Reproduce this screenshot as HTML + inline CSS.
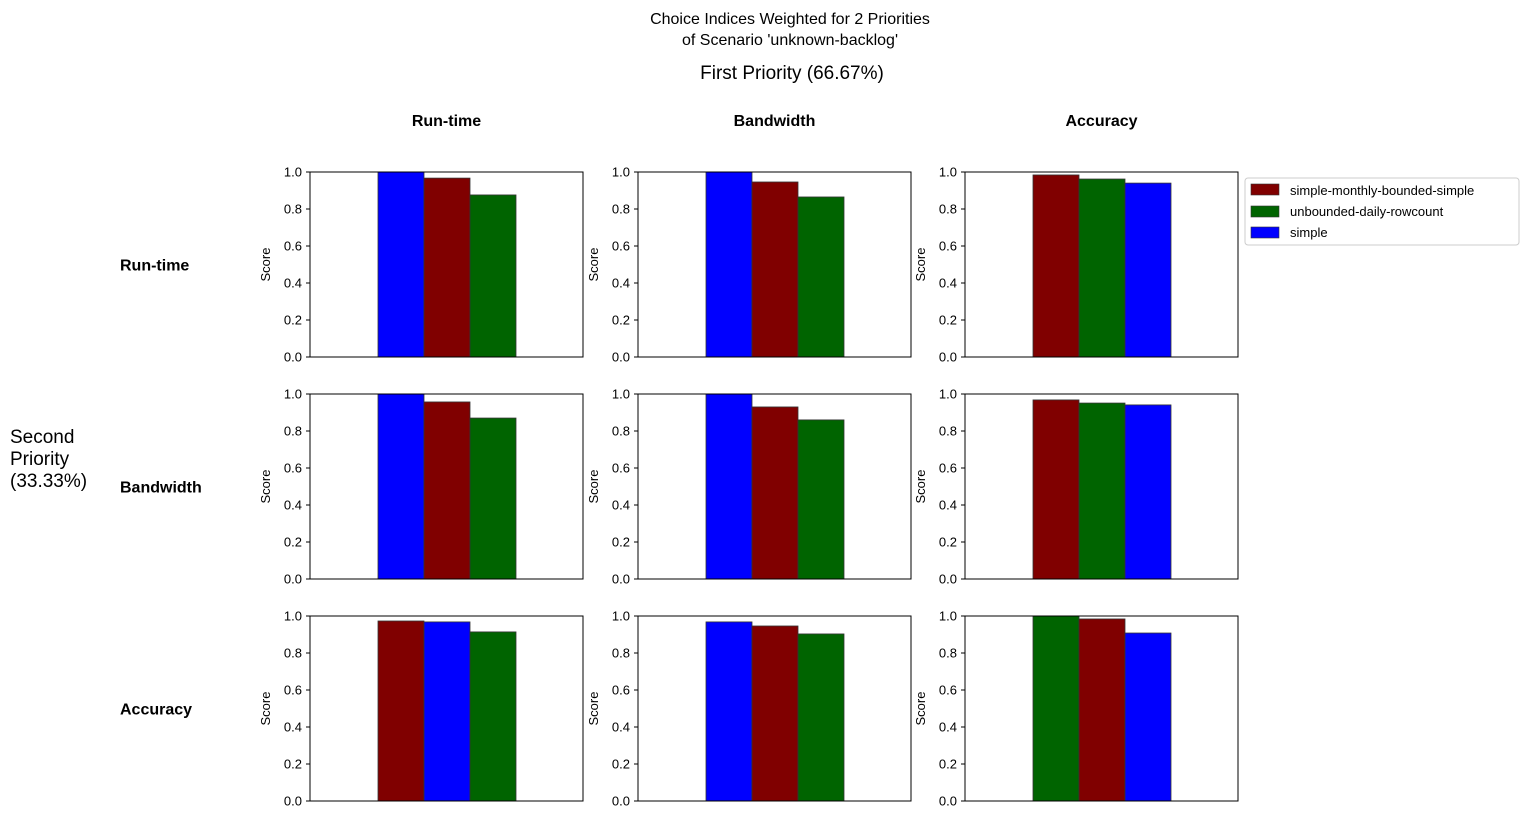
<!DOCTYPE html>
<html><head><meta charset="utf-8"><style>
body{margin:0;background:#fff;}
svg{display:block;font-family:"Liberation Sans","DejaVu Sans",sans-serif;}
</style></head><body>
<svg id="c" width="1529" height="820" viewBox="0 0 1529 820">
<text x="790" y="24" font-size="16" text-anchor="middle">Choice Indices Weighted for 2 Priorities</text>
<text x="790" y="45" font-size="16" text-anchor="middle">of Scenario 'unknown-backlog'</text>
<text x="792" y="79" font-size="19" text-anchor="middle">First Priority (66.67%)</text>
<text x="10" y="443" font-size="19"><tspan x="10">Second</tspan><tspan x="10" dy="22">Priority</tspan><tspan x="10" dy="22">(33.33%)</tspan></text>
<g id="legend">
<rect x="1245" y="178" width="274" height="67" fill="#fff" stroke="#ccc" rx="3"/>
<rect x="1251" y="184" width="28" height="11" fill="#800000" stroke="#333" stroke-width="0.6"/>
<text x="1290" y="195" font-size="13">simple-monthly-bounded-simple</text>
<rect x="1251" y="206" width="28" height="11" fill="#006400" stroke="#333" stroke-width="0.6"/>
<text x="1290" y="216" font-size="13">unbounded-daily-rowcount</text>
<rect x="1251" y="227" width="28" height="11" fill="#0000ff" stroke="#333" stroke-width="0.6"/>
<text x="1290" y="237" font-size="13">simple</text>
</g>
</svg>
<script>
const criteria = ["Run-time","Bandwidth","Accuracy"];
const yTicks = [0.0,0.2,0.4,0.6,0.8,1.0];
const seriesColors = {"simple-monthly-bounded-simple":"#800000","unbounded-daily-rowcount":"#006400","simple":"#0000ff"};
// each panel: ordered series names and values (row = second priority, col = first priority)
const panelSeries = [
 [["simple","simple-monthly-bounded-simple","unbounded-daily-rowcount"],["simple","simple-monthly-bounded-simple","unbounded-daily-rowcount"],["simple-monthly-bounded-simple","unbounded-daily-rowcount","simple"]],
 [["simple","simple-monthly-bounded-simple","unbounded-daily-rowcount"],["simple","simple-monthly-bounded-simple","unbounded-daily-rowcount"],["simple-monthly-bounded-simple","unbounded-daily-rowcount","simple"]],
 [["simple-monthly-bounded-simple","simple","unbounded-daily-rowcount"],["simple","simple-monthly-bounded-simple","unbounded-daily-rowcount"],["unbounded-daily-rowcount","simple-monthly-bounded-simple","simple"]]
];
const panelValues = [
 [[1.0,0.967,0.876],[1.0,0.946,0.865],[0.984,0.962,0.94]],
 [[1.0,0.957,0.870],[1.0,0.93,0.86],[0.968,0.951,0.941]],
 [[0.973,0.968,0.914],[0.968,0.946,0.903],[1.0,0.984,0.908]]
];
const svg=document.getElementById('c');
const NS="http://www.w3.org/2000/svg";
function mk(tag,attrs,txt){const e=document.createElementNS(NS,tag);for(const k in attrs)e.setAttribute(k,attrs[k]);if(txt!==undefined)e.textContent=txt;svg.appendChild(e);return e;}
const colX=[310,638,965], rowY=[172,394,616], W=273, H=185;
const colTitleY=126, rowLabelX=120;
criteria.forEach((c,i)=>{
  const t=mk('text',{x:colX[i]+W/2,y:colTitleY,'font-size':16,'font-weight':'bold','text-anchor':'middle'},c);
  
  
  const r=mk('text',{x:rowLabelX,y:rowY[i]+H/2+6,'font-size':16,'font-weight':'bold'},c);
  
  
});
for(let r=0;r<3;r++)for(let c=0;c<3;c++){
  const x0=colX[c], y0=rowY[r];
  const ys=v=>y0+H-v*H;
  const bw=46, start=x0+68;
  panelValues[r][c].forEach((v,k)=>{
    const b=mk('rect',{x:start+k*bw,y:ys(v),width:bw,height:v*H,fill:seriesColors[panelSeries[r][c][k]],stroke:'#333','stroke-width':0.8});
    
    
  });
  const f=mk('rect',{x:x0,y:y0,width:W,height:H,fill:'none',stroke:'#000','stroke-width':1});
  
  
  yTicks.forEach(t=>{
    mk('line',{x1:x0-4,x2:x0,y1:ys(t),y2:ys(t),stroke:'#000'});
    const tl=mk('text',{x:x0-8,y:ys(t)+4.5,'font-size':13,'text-anchor':'end'},t.toFixed(1));
    
    
  });
  const yl=mk('text',{x:0,y:0,'font-size':13,'text-anchor':'middle',transform:`translate(${x0-40},${y0+H/2}) rotate(-90)`},'Score');
  
  
}
</script>
</body></html>
